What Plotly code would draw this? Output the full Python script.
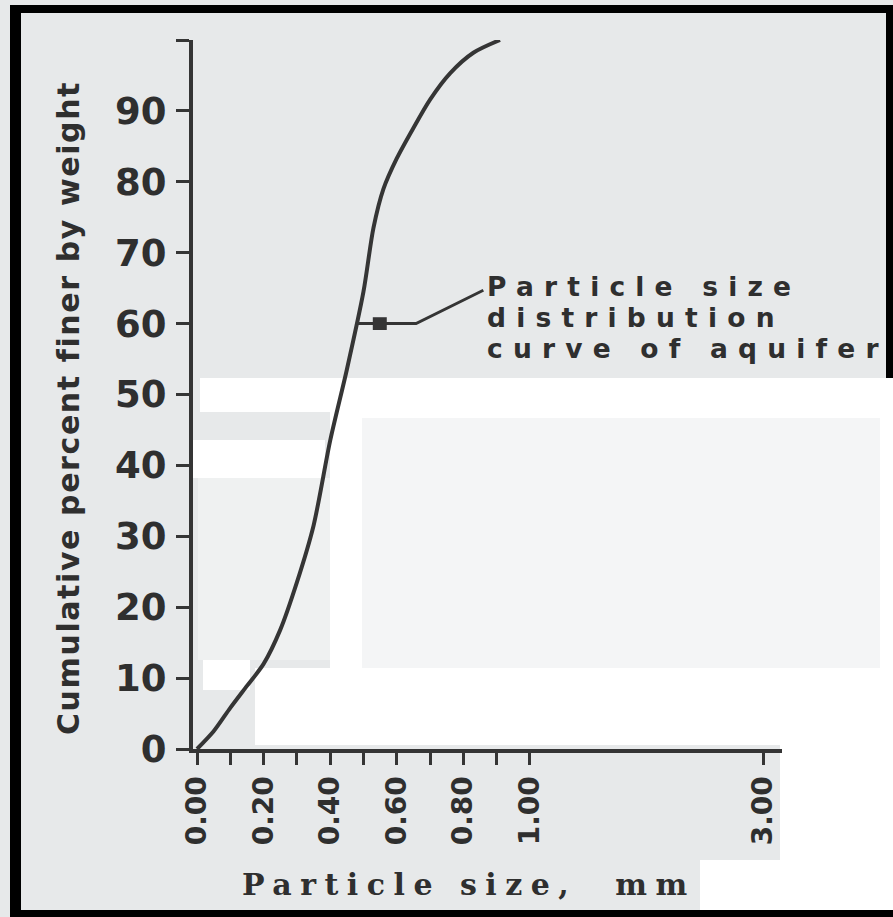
import plotly.graph_objects as go

# Cumulative grading curve of the aquifer material
size_mm = [0.0, 0.05, 0.10, 0.15, 0.20, 0.25, 0.30, 0.35, 0.40, 0.45,
           0.50, 0.53, 0.56, 0.60, 0.65, 0.70, 0.76, 0.83, 0.91]
pct_finer = [0, 2.5, 5.8, 8.9, 12.0, 16.8, 23.5, 31.5, 43.5, 53.5,
             64.5, 73.5, 79.0, 83.3, 87.6, 91.6, 95.3, 98.2, 100]

# Axis ticks (the axis is broken after 1.00 mm)
x_ticks_mm = [0.0, 0.1, 0.2, 0.3, 0.4, 0.5, 0.6, 0.7, 0.8, 0.9, 1.0, 3.0]
x_tick_text = ["0.00", "", "0.20", "", "0.40", "", "0.60", "", "0.80", "", "1.00", "3.00"]
y_ticks = [0, 10, 20, 30, 40, 50, 60, 70, 80, 90, 100]
y_tick_text = ["0", "10", "20", "30", "40", "50", "60", "70", "80", "90", ""]

BREAK_AT = 1.0      # mm, where the scale is compressed
BREAK_SCALE = 0.35  # drawn length per mm beyond the break


def axis_pos(v):
    """Position of a particle size on the broken x scale."""
    return v if v <= BREAK_AT else BREAK_AT + (v - BREAK_AT) * BREAK_SCALE


# Figure geometry in pixels
W, H = 893, 917
L, R, T, B = 193, 782, 40, 749


def px(x):
    return (x - L) / (R - L)


def py(y):
    return (B - y) / (B - T)


INK = "#2f2f2f"
LINE = "#353535"
SANS = "DejaVu Sans"
SERIF = "DejaVu Serif"

fig = go.Figure()
fig.add_trace(go.Scatter(
    x=[axis_pos(v) for v in size_mm], y=pct_finer,
    mode="lines", line=dict(color=LINE, width=4, shape="spline", smoothing=0.8),
    cliponaxis=False, hoverinfo="skip", showlegend=False,
))

shapes = []


def paper_rect(x0, y0, x1, y1, color):
    shapes.append(dict(type="rect", xref="paper", yref="paper",
                       x0=px(x0), x1=px(x1), y0=py(y1), y1=py(y0),
                       fillcolor=color, line=dict(width=0), layer="below"))


# Black frame
paper_rect(10, 5, 893, 13, "#000000")
paper_rect(10, 5, 21, 917, "#000000")
paper_rect(886, 5, 893, 917, "#000000")
# Pasted-over white areas
paper_rect(200, 378, 893, 412, "#ffffff")
paper_rect(330, 410, 893, 745, "#ffffff")
paper_rect(362, 418, 880, 688, "#f4f5f6")
paper_rect(193, 440, 325, 478, "#ffffff")
paper_rect(198, 478, 330, 660, "#eff1f1")
paper_rect(203, 660, 250, 690, "#ffffff")
paper_rect(255, 668, 893, 745, "#ffffff")
paper_rect(780, 745, 893, 865, "#ffffff")
paper_rect(700, 860, 893, 910, "#ffffff")
paper_rect(10, 910, 893, 917, "#000000")

# Leader from the label to the curve
lead_y = 60
shapes.append(dict(type="path", xref="x", yref="y",
                   path=f"M 0.483 {lead_y} L 0.658 {lead_y} L 0.86 64.7",
                   line=dict(color=LINE, width=3), layer="above"))
shapes.append(dict(type="rect", xref="x", yref="y",
                   x0=0.528, x1=0.57, y0=lead_y - 0.9, y1=lead_y + 0.9,
                   fillcolor=LINE, line=dict(width=0), layer="above"))


def spaced(text, sp, size=None):
    style = f"letter-spacing:{sp}px"
    if size:
        style += f";font-size:{size}px"
    return f'<span style="{style}">{text}</span>'


label_lines = ["Particle size", "distribution", "curve of aquifer"]
annotations = [
    dict(
        # line pitch comes from the outer size, glyphs from the inner span
        text="<br>".join(spaced(s, 10.2, 26.5) for s in label_lines),
        xref="paper", yref="paper", x=px(485), y=py(269), xanchor="left", yanchor="top",
        align="left", showarrow=False,
        font=dict(family=SANS, size=24, color=INK, weight="bold"),
    ),
    dict(
        text=spaced("Particle size,\u00a0\u00a0mm", 8.5), xref="paper", yref="paper",
        x=px(240), y=py(884), xanchor="left", yanchor="middle", showarrow=False,
        font=dict(family=SERIF, size=30, color=INK, weight="bold"),
    ),
    dict(
        text=spaced("Cumulative percent finer by weight", 1.6), xref="paper", yref="paper",
        x=px(68), y=py(408), xanchor="center", yanchor="middle", textangle=-90,
        showarrow=False, font=dict(family=SANS, size=30, color=INK, weight="bold"),
    ),
]

fig.update_layout(
    width=W, height=H,
    margin=dict(l=L, r=W - R, t=T, b=H - B, pad=0),
    paper_bgcolor="#e7e9ea", plot_bgcolor="rgba(0,0,0,0)",
    shapes=shapes, annotations=annotations, showlegend=False,
)
fig.update_xaxes(
    range=[-0.012, axis_pos(3.0) + 0.057],
    tickmode="array", tickvals=[axis_pos(v) for v in x_ticks_mm], ticktext=x_tick_text,
    tickangle=-90, ticks="outside", ticklen=12, tickwidth=3, tickcolor=LINE,
    showline=True, linecolor=LINE, linewidth=4,
    showgrid=False, zeroline=False,
    tickfont=dict(family=SANS, size=28, color=INK, weight="bold"),
)
fig.update_yaxes(
    range=[0, 100],
    tickmode="array", tickvals=y_ticks, ticktext=y_tick_text,
    ticks="outside", ticklen=13, tickwidth=3, tickcolor=LINE,
    showline=True, linecolor=LINE, linewidth=4,
    showgrid=False, zeroline=False, ticklabelstandoff=2,
    tickfont=dict(family=SANS, size=37, color=INK, weight="bold"),
)

fig.write_html("out.html")
